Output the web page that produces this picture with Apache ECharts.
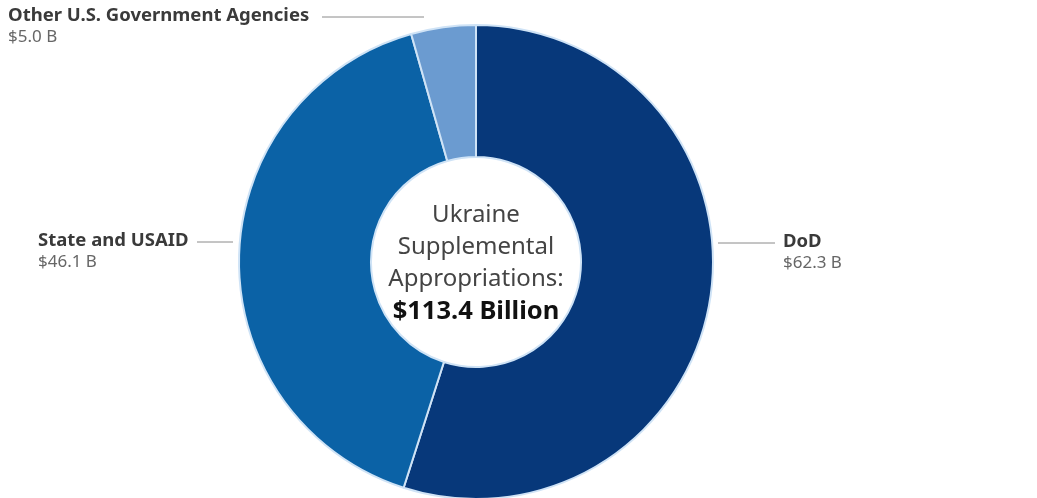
<!DOCTYPE html>
<html>
<head>
<meta charset="utf-8">
<script src="https://cdn.jsdelivr.net/npm/echarts@6/dist/echarts.min.js"></script>
<style>
html,body{margin:0;padding:0;background:#fff;}
#chart{width:1037px;height:498px;}
</style>
</head>
<body>
<div id="chart"></div>
<script>
const categories = ['DoD', 'State and USAID', 'Other U.S. Government Agencies'];
const values = [62.3, 46.1, 5.0];
const valueLabels = ['$62.3 B', '$46.1 B', '$5.0 B'];
const centerLines = ['Ukraine', 'Supplemental', 'Appropriations:'];
const centerTotal = '$113.4 Billion';

const colors = ['#07387a', '#0b62a6', '#6b9bd0'];
// label anchor positions (annotation layout)
const labelPos = [
  {x: 783, y: 231, line: [[718, 243], [746, 243], [775, 243]]},
  {x: 38, y: 230, line: [[197, 242], [215, 242], [233, 242]]},
  {x: 8, y: 5, line: [[322, 17], [372, 17], [424, 17]]}
];

const chart = echarts.init(document.getElementById('chart'));
const FONT = '"Noto Sans", sans-serif';
chart.setOption({
  backgroundColor: '#ffffff',
  animation: false,
  series: [{
    type: 'pie',
    center: [476, 262],
    radius: [105, 237],
    startAngle: 90,
    clockwise: true,
    data: categories.map((c, i) => ({name: c, value: values[i], itemStyle: {color: colors[i]}})),
    itemStyle: {borderColor: '#cfe3f6', borderWidth: 2},
    label: {
      show: true,
      formatter: p => '{n|' + p.name + '}\n{v|' + valueLabels[p.dataIndex] + '}',
      rich: {
        n: {fontFamily: FONT, fontWeight: 'bold', fontSize: 18.5, color: '#3a3a3a', lineHeight: 22},
        v: {fontFamily: FONT, fontSize: 17, color: '#666', lineHeight: 20}
      }
    },
    labelLine: {show: true, lineStyle: {color: '#8a8a8a', width: 1}},
    labelLayout: function (params) {
      const p = labelPos[params.dataIndex];
      return {x: p.x, y: p.y, align: 'left', verticalAlign: 'top', labelLinePoints: p.line};
    },
    emphasis: {disabled: true}
  }],
  graphic: [{
    type: 'text',
    x: 476,
    y: 199,
    style: {
      text: centerLines.join('\n') + '\n{b|' + centerTotal + '}',
      textAlign: 'center',
      fontFamily: FONT,
      fontSize: 24,
      lineHeight: 32,
      fill: '#444',
      rich: {
        b: {fontFamily: FONT, fontSize: 25.5, fontWeight: 'bold', fill: '#111', lineHeight: 33}
      }
    }
  }]
});
</script>
</body>
</html>
